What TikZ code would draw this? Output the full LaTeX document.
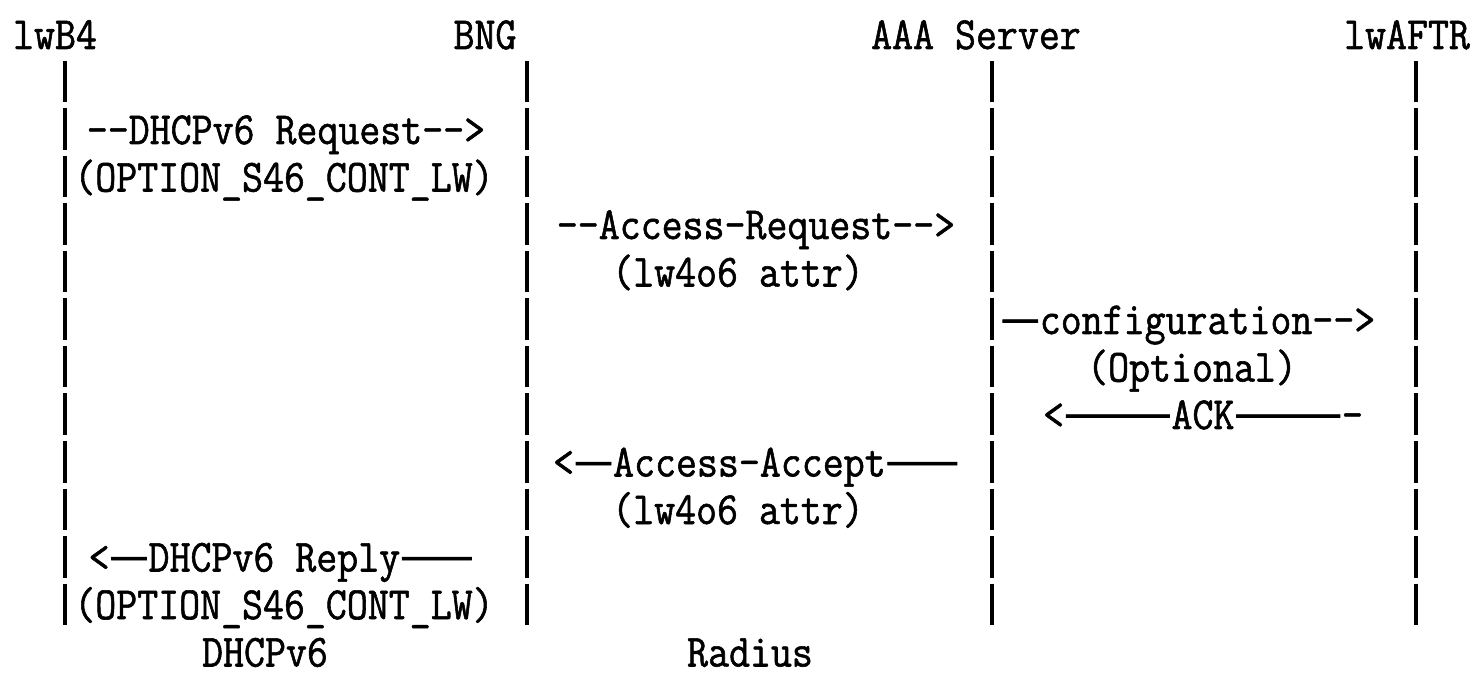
\documentclass[tikz,border=0pt]{standalone}
\usepackage{fontspec}
\setmonofont[FakeStretch=0.885,FakeBold=1.2]{Latin Modern Mono}
\newfontfamily\dashfont[FakeStretch=0.95,FakeBold=1.5]{Noto Sans CJK SC}
\newcommand\ld{{\dashfont —}}
\usetikzlibrary{positioning}

\begin{document}
\begin{tikzpicture}[x=0.5pt,y=-0.5pt,
  txt/.style={font=\ttfamily\fontsize{23}{27}\selectfont,inner sep=0pt,anchor=base},
  life/.style={line width=2.2pt,dash pattern=on 20.75pt off 3pt}]
\useasboundingbox (0,0) rectangle (1472,678);
% participants
\node[txt] (b4) at (55,49) {lwB4};
\node[txt] (bng) at (485,49) {BNG};
\node[txt] (aaa) at (976,49) {AAA Server};
\node[txt] (aftr) at (1407,49) {lwAFTR};
% lifelines
\foreach \n/\x in {b4/65, bng/527, aaa/992, aftr/1416} {
  \coordinate (\n-top) at (\x,61);
  \coordinate (\n-bot) at (\x,626);
  \draw[life] (\n-top) -- (\n-bot);
}
% messages
\node[txt] (dreq) at (286,144) {-{}-DHCPv6 Request-{}->};
\node[txt] (dreqopt) at (284,191.5) {(OPTION\_S46\_CONT\_LW)};
\node[txt] (areq) at (756,239) {-{}-Access-Request-{}->};
\node[txt] (areqattr) at (738,286.5) {(lw4o6 attr)};
\node[txt] (conf) at (1188,334) {\ld configuration-{}->};
\node[txt] (confopt) at (1192,381.5) {(Optional)};
\node[txt] (ack) at (1203,429) {<\ld\ld\ld ACK\ld\ld\ld-};
\node[txt] (aacc) at (756,476.5) {<\ld Access-Accept\ld\ld};
\node[txt] (aaccattr) at (738,524) {(lw4o6 attr)};
\node[txt] (drep) at (281,571.5) {<\ld DHCPv6 Reply\ld\ld};
\node[txt] (drepopt) at (284,619) {(OPTION\_S46\_CONT\_LW)};
% protocols
\node[txt] (dhcp) at (265,666.5) {DHCPv6};
\node[txt] (radius) at (750,666.5) {Radius};
\end{tikzpicture}
\end{document}
